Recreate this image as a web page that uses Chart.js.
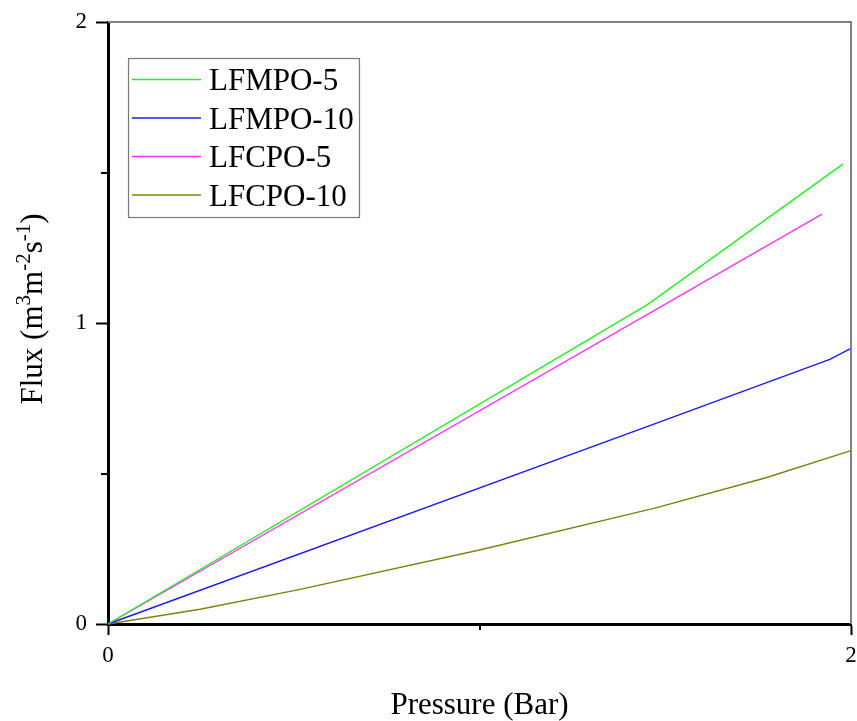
<!DOCTYPE html>
<html>
<head>
<meta charset="utf-8">
<script src="https://cdn.jsdelivr.net/npm/chart.js@4/dist/chart.umd.min.js"></script>
<style>
  html, body { margin: 0; padding: 0; background: #ffffff; }
  #wrap { width: 857px; height: 721px; }
</style>
</head>
<body>
<div id="wrap"><canvas id="c" width="857" height="721"></canvas></div>
<script>
// ---- data ----
const seriesNames = ["LFMPO-5", "LFMPO-10", "LFCPO-5", "LFCPO-10"];
const seriesColors = ["#22ee22", "#1a1aff", "#ff33ff", "#808010"];

const lfmpo5X = [0, 1.451, 1.978];
const lfmpo5Y = [0, 1.060, 1.528];

const lfmpo10X = [0, 1.451, 1.943, 2.0];
const lfmpo10Y = [0, 0.656, 0.879, 0.916];

const lfcpo5X = [0, 1.451, 1.922];
const lfcpo5Y = [0, 1.028, 1.362];

const lfcpo10X = [0, 0.248, 0.517, 1.0, 1.472, 1.771, 2.0];
const lfcpo10Y = [0, 0.049, 0.115, 0.246, 0.385, 0.486, 0.576];

const xMajorTicks = [0, 2];
const xMinorTicks = [1];
const yMajorTicks = [0, 1, 2];
const yMinorTicks = [0.5, 1.5];

const xTitle = "Pressure (Bar)";
// y title pieces: [text, isSuperscript]
const yTitleParts = [["Flux (m", false], ["3", true], ["m", false], ["-2", true], ["s", false], ["-1", true], [")", false]];

// ---- build ----
function pts(xs, ys) { return xs.map((x, i) => ({ x: x, y: ys[i] })); }
const allX = [lfmpo5X, lfmpo10X, lfcpo5X, lfcpo10X];
const allY = [lfmpo5Y, lfmpo10Y, lfcpo5Y, lfcpo10Y];

const datasets = seriesNames.map((n, i) => ({
  label: n,
  data: pts(allX[i], allY[i]),
  borderColor: seriesColors[i],
  backgroundColor: seriesColors[i],
  borderWidth: 1.4,
  pointRadius: 0,
  tension: 0,
  fill: false,
  clip: 4
}));

const SERIF = "'Liberation Serif', 'Times New Roman', serif";

const decorPlugin = {
  id: 'decor',
  afterDatasetsDraw(chart) {
    const ctx = chart.ctx;
    const a = chart.chartArea;
    const xs = chart.scales.x, ys = chart.scales.y;
    ctx.save();
    // top / right frame
    ctx.strokeStyle = '#808080';
    ctx.lineWidth = 2;
    ctx.beginPath();
    ctx.moveTo(a.left, a.top);
    ctx.lineTo(a.right, a.top);
    ctx.lineTo(a.right, a.bottom);
    ctx.stroke();
    // minor ticks
    ctx.strokeStyle = '#000';
    ctx.lineWidth = 2;
    ctx.beginPath();
    yMinorTicks.forEach(v => {
      const p = Math.round(ys.getPixelForValue(v));
      ctx.moveTo(a.left - 7, p);
      ctx.lineTo(a.left, p);
    });
    xMinorTicks.forEach(v => {
      const p = Math.round(xs.getPixelForValue(v));
      ctx.moveTo(p, a.bottom);
      ctx.lineTo(p, a.bottom + 6);
    });
    ctx.stroke();

    // legend box
    const lx = 128, ly = 58, lw = 231, lh = 159;
    ctx.fillStyle = '#fff';
    ctx.fillRect(lx, ly, lw, lh);
    ctx.strokeStyle = '#777';
    ctx.lineWidth = 1.2;
    ctx.strokeRect(lx + 0.5, ly + 0.5, lw, lh);
    ctx.font = "31px " + SERIF;
    ctx.textAlign = 'left';
    ctx.textBaseline = 'alphabetic';
    chart.data.datasets.forEach((d, i) => {
      const ry = 79.5 + i * 38.5;
      ctx.strokeStyle = d.borderColor;
      ctx.lineWidth = 1.4;
      ctx.beginPath();
      ctx.moveTo(132, ry);
      ctx.lineTo(201, ry);
      ctx.stroke();
      ctx.fillStyle = '#000';
      ctx.fillText(d.label, 209, ry + 10.5);
    });

    // x title
    ctx.font = "31px " + SERIF;
    ctx.textAlign = 'center';
    ctx.fillStyle = '#000';
    ctx.fillText(xTitle, (a.left + a.right) / 2, 714);

    // y title (rotated, with superscripts)
    const mainFont = "31px " + SERIF, supFont = "21px " + SERIF;
    let total = 0;
    yTitleParts.forEach(([t, s]) => { ctx.font = s ? supFont : mainFont; total += ctx.measureText(t).width; });
    ctx.translate(42, 309);
    ctx.rotate(-Math.PI / 2);
    ctx.textAlign = 'left';
    let cx = -total / 2;
    yTitleParts.forEach(([t, s]) => {
      ctx.font = s ? supFont : mainFont;
      ctx.fillText(t, cx, s ? -12 : 0);
      cx += ctx.measureText(t).width;
    });
    ctx.restore();
  }
};

new Chart(document.getElementById('c'), {
  type: 'line',
  data: { datasets: datasets },
  options: {
    responsive: false,
    animation: false,
    events: [],
    layout: { padding: { top: 22, right: 6, left: 0, bottom: 0 } },
    plugins: { legend: { display: false }, tooltip: { enabled: false }, title: { display: false } },
    scales: {
      x: {
        type: 'linear',
        min: 0, max: 2,
        afterFit(s) { s.height = 97; s.paddingLeft = 0; s.paddingRight = 0; },
        afterBuildTicks(s) { s.ticks = xMajorTicks.map(v => ({ value: v })); },
        ticks: {
          font: { family: SERIF, size: 23 },
          color: '#000',
          padding: 7,
          maxRotation: 0,
          callback: v => String(v)
        },
        grid: { drawOnChartArea: false, drawTicks: true, tickLength: 11, tickWidth: 2, tickColor: '#000' },
        border: { display: true, color: '#000', width: 3 }
      },
      y: {
        type: 'linear',
        min: 0, max: 2,
        afterFit(s) { s.width = 108; s.paddingTop = 0; s.paddingBottom = 0; },
        afterBuildTicks(s) { s.ticks = yMajorTicks.map(v => ({ value: v })); },
        ticks: {
          font: { family: SERIF, size: 23 },
          color: '#000',
          padding: 9,
          callback: v => String(v)
        },
        grid: { drawOnChartArea: false, drawTicks: true, tickLength: 12, tickWidth: 2, tickColor: '#000' },
        border: { display: true, color: '#000', width: 3 }
      }
    }
  },
  plugins: [decorPlugin]
});
</script>
</body>
</html>
